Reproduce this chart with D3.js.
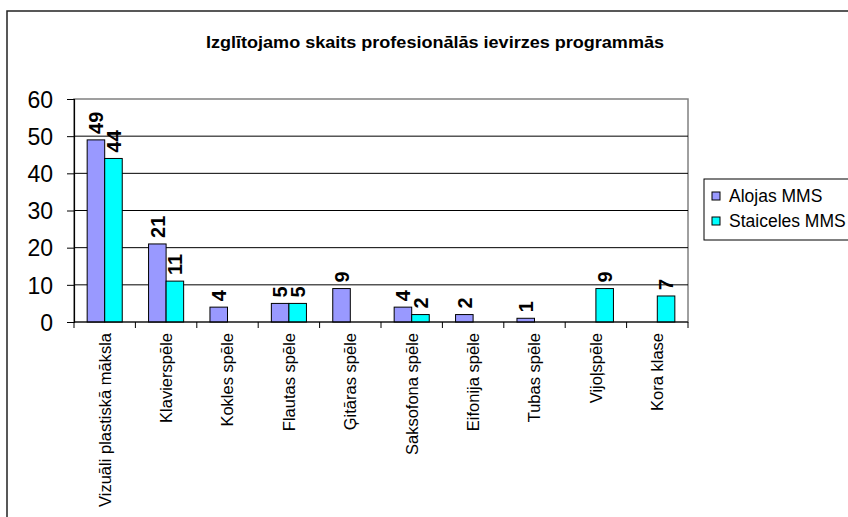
<!DOCTYPE html>
<html lang="lv">
<head>
  <meta charset="utf-8">
  <title>Izglītojamo skaits</title>
  <script src="https://d3js.org/d3.v7.min.js"></script>
  <style>
    body { margin: 0; background: #fff; }
    #chart text { font-family: "Liberation Sans", Arial, sans-serif; fill: #000; }
  </style>
</head>
<body>
  <div id="chart"></div>

  <script>
    "use strict"

    var kategorijas = ["Vizuāli plastiskā māksla", "Klavierspēle", "Kokles spēle", "Flautas spēle",
      "Ģitāras spēle", "Saksofona spēle", "Eifonija spēle", "Tubas spēle", "Vijoļspēle", "Kora klase"];
    var serijas = ["Alojas MMS", "Staiceles MMS"];
    var alojas = [49, 21, 4, 5, 9, 4, 2, 1, null, null];
    var staiceles = [44, 11, null, 5, null, 2, null, null, 9, 7];
    var yTicks = [0, 10, 20, 30, 40, 50, 60];
    var krasas = ["#9999FF", "#00FFFF"];

    var platums = 848, augstums = 517;
    var plot = {left: 74, right: 688, top: 99, bottom: 322};

    var svg = d3.select("#chart").append("svg")
      .attr("width", platums)
      .attr("height", augstums);

    // outer chart frame (continues past the picture edge)
    svg.append("rect")
      .attr("x", 7).attr("y", 11)
      .attr("width", 900).attr("height", 600)
      .attr("fill", "#fff")
      .attr("stroke", "#222").attr("stroke-width", 1.5);

    svg.append("text")
      .attr("x", 435).attr("y", 48)
      .attr("text-anchor", "middle")
      .attr("textLength", 458)
      .attr("lengthAdjust", "spacingAndGlyphs")
      .style("font-weight", "bold")
      .style("font-size", "16px")
      .text("Izglītojamo skaits profesionālās ievirzes programmās");

    var x = d3.scaleBand().domain(kategorijas).range([plot.left, plot.right]);
    var xs = d3.scaleBand().domain(serijas).range([0, x.bandwidth()]).paddingOuter(0.75);
    var y = d3.scaleLinear().domain([0, 60]).range([plot.bottom, plot.top]);

    // plot area border
    svg.append("rect")
      .attr("x", plot.left).attr("y", plot.top)
      .attr("width", plot.right - plot.left).attr("height", plot.bottom - plot.top)
      .attr("fill", "none").attr("stroke", "#808080").attr("stroke-width", 1.5);

    // gridlines
    svg.append("g").selectAll("line")
      .data(yTicks.filter(d => d > 0 && d < 60))
      .enter().append("line")
        .attr("x1", plot.left).attr("x2", plot.right)
        .attr("y1", d => y(d)).attr("y2", d => y(d))
        .attr("stroke", "#000").attr("stroke-width", 1);

    var yAxis = svg.append("g")
      .attr("transform", "translate(" + plot.left + ",0)")
      .call(d3.axisLeft(y).tickValues(yTicks).tickSize(7).tickPadding(14));
    yAxis.select(".domain").attr("stroke", "#000").attr("stroke-width", 1.2);
    yAxis.selectAll("text").style("font-size", "23px").attr("dy", "0.36em");

    // bars
    var dati = [];
    kategorijas.forEach(function(k, i) {
      dati.push({kat: k, ser: serijas[0], v: alojas[i], c: krasas[0]});
      dati.push({kat: k, ser: serijas[1], v: staiceles[i], c: krasas[1]});
    });
    var ir = dati.filter(d => d.v !== null);

    svg.append("g").selectAll("rect")
      .data(ir)
      .enter().append("rect")
        .attr("x", d => x(d.kat) + xs(d.ser))
        .attr("y", d => y(d.v))
        .attr("width", xs.bandwidth())
        .attr("height", d => y(0) - y(d.v))
        .attr("fill", d => d.c)
        .attr("stroke", "#000").attr("stroke-width", 1);

    svg.append("g").selectAll("text")
      .data(ir)
      .enter().append("text")
        .attr("transform", d => "translate(" + (x(d.kat) + xs(d.ser) + xs.bandwidth() / 2) + "," + (y(d.v) - 6) + ") rotate(-90)")
        .attr("dy", "0.36em")
        .style("font-weight", "bold")
        .style("font-size", "20px")
        .text(d => d.v);

    // x axis line and ticks on category boundaries
    var xg = svg.append("g");
    xg.append("line")
      .attr("x1", plot.left).attr("x2", plot.right)
      .attr("y1", y(0)).attr("y2", y(0))
      .attr("stroke", "#000").attr("stroke-width", 1.2);
    var robezas = kategorijas.map(k => x(k)).concat([plot.right]);
    xg.selectAll(".tick")
      .data(robezas)
      .enter().append("line")
        .attr("x1", d => d).attr("x2", d => d)
        .attr("y1", y(0)).attr("y2", y(0) + 6)
        .attr("stroke", "#000");
    xg.selectAll(".lbl")
      .data(kategorijas)
      .enter().append("text")
        .attr("transform", d => "translate(" + (x(d) + x.bandwidth() / 2) + "," + (y(0) + 11) + ") rotate(-90)")
        .attr("text-anchor", "end")
        .attr("dy", "0.36em")
        .style("font-size", "16.5px")
        .text(d => d);

    // legend
    var leg = svg.append("g").attr("transform", "translate(704,179)");
    leg.append("rect")
      .attr("width", 200).attr("height", 61)
      .attr("fill", "#fff").attr("stroke", "#000").attr("stroke-width", 1);
    var li = leg.selectAll(".li")
      .data(serijas)
      .enter().append("g")
        .attr("transform", (d, i) => "translate(8," + (13 + i * 25) + ")");
    li.append("rect")
      .attr("width", 8).attr("height", 8)
      .attr("fill", (d, i) => krasas[i])
      .attr("stroke", "#000");
    li.append("text")
      .attr("x", 17).attr("y", 10)
      .style("font-size", "17.5px")
      .text(d => d);
  </script>
</body>
</html>
